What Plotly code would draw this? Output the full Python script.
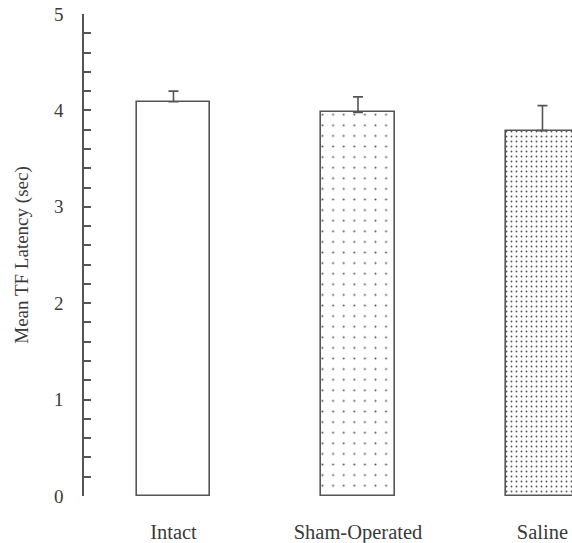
import plotly.graph_objects as go

# Tail-flick latency by group
groups = ["Intact", "Sham-Operated", "Saline"]
mean_latency = [4.09, 3.98, 3.79]
sem_latency = [0.11, 0.16, 0.26]
y_ticks = [0, 1, 2, 3, 4, 5]

INK = "#555555"
TEXT = "#3a3a3a"
FONT = "Liberation Serif"

# per-bar fill: plain, sparse dots, dense dots
pattern_shape = ["", ".", "."]
pattern_size = [8, 10.6, 5]
pattern_solidity = [0.1, 0.03, 0.11]

fig = go.Figure()
fig.add_trace(go.Bar(
    x=list(range(len(groups))),
    y=mean_latency,
    width=0.396,
    cliponaxis=False,
    marker=dict(
        color="white",
        line=dict(color=INK, width=1.6),
        pattern=dict(shape=pattern_shape, size=pattern_size,
                     solidity=pattern_solidity, fgcolor="#555555",
                     bgcolor="white", fillmode="replace"),
    ),
    error_y=dict(type="data", symmetric=False, array=sem_latency,
                 arrayminus=[0] * len(groups),
                 color=INK, thickness=1.6, width=5),
    showlegend=False,
))

fig.update_layout(
    width=572, height=543,
    margin=dict(l=84, r=0, t=14, b=47),
    paper_bgcolor="white", plot_bgcolor="white",
    font=dict(family=FONT, color=TEXT),
    bargap=0,
    xaxis=dict(
        range=[-0.485, 2.16],
        tickmode="array",
        tickvals=list(range(len(groups))),
        ticktext=groups,
        showline=False, showgrid=False, zeroline=False,
        ticks="", ticklabelstandoff=21,
        tickfont=dict(family=FONT, size=20.5, color=TEXT),
    ),
    yaxis=dict(
        range=[0, 5],
        tickvals=y_ticks,
        ticks="inside", ticklen=7, tickwidth=1.5, tickcolor=INK,
        minor=dict(dtick=0.2, ticks="inside", ticklen=7, tickwidth=1.5,
                   tickcolor=INK, showgrid=False),
        showline=True, linecolor=INK, linewidth=1.6,
        showgrid=False, zeroline=False,
        ticklabelstandoff=15,
        tickfont=dict(family=FONT, size=19, color=TEXT),
        title=dict(text="Mean TF Latency (sec)", standoff=20,
                   font=dict(family=FONT, size=19, color=TEXT)),
        automargin=False,
    ),
)

fig.write_html("out.html")
